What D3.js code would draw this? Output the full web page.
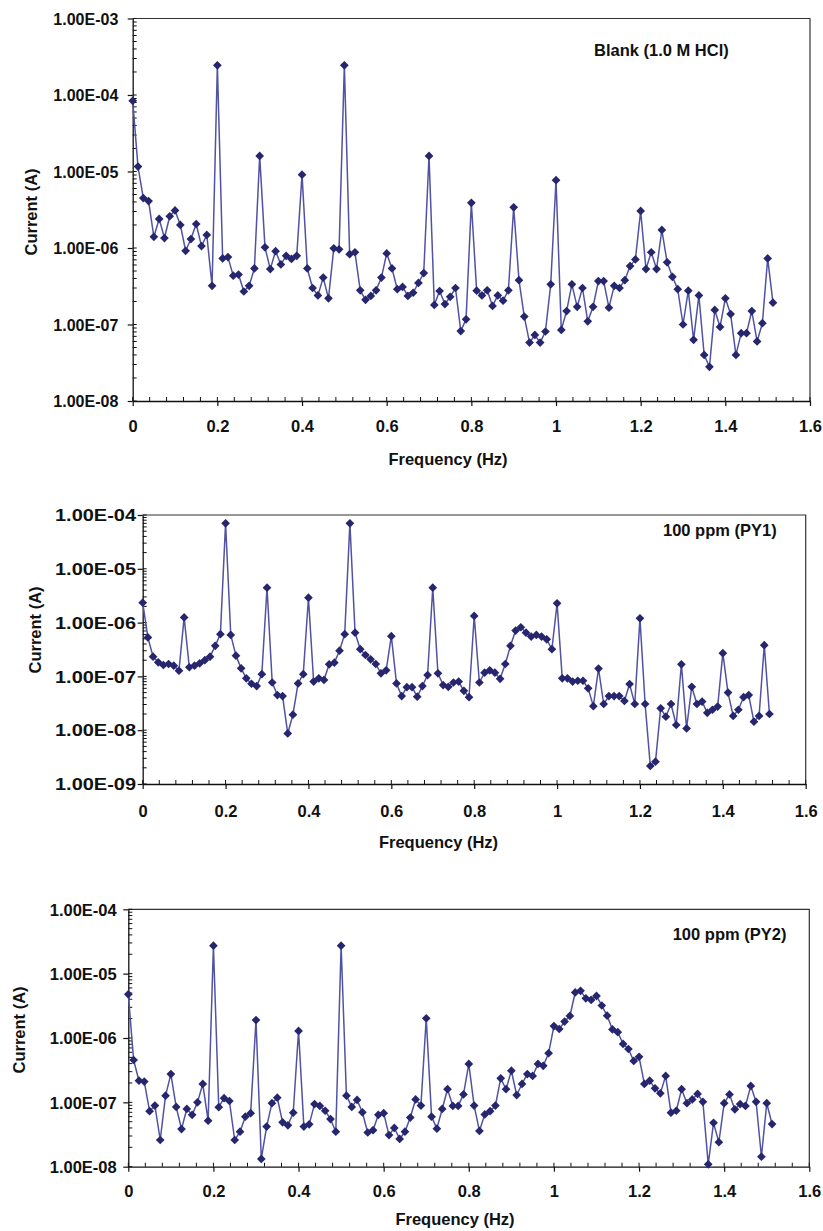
<!DOCTYPE html>
<html>
<head>
<meta charset="utf-8">
<script src="https://cdn.jsdelivr.net/npm/d3@7"></script>
<style>
  html, body { margin: 0; padding: 0; background: #fff; }
  svg { display: block; }
  text { font-family: "Liberation Sans", Arial, sans-serif; font-weight: bold; fill: #111; }
</style>
</head>
<body>
<svg id="chart" width="823" height="1231"></svg>
<script>
// Frequency bins of the spectra (Hz)
const FREQ = [
  0, 0.0125, 0.025, 0.0375, 0.05, 0.0625, 0.075, 0.0875,
  0.1, 0.1125, 0.125, 0.1375, 0.15, 0.1625, 0.175, 0.1875,
  0.2, 0.2125, 0.225, 0.2375, 0.25, 0.2625, 0.275, 0.2875,
  0.3, 0.3125, 0.325, 0.3375, 0.35, 0.3625, 0.375, 0.3875,
  0.4, 0.4125, 0.425, 0.4375, 0.45, 0.4625, 0.475, 0.4875,
  0.5, 0.5125, 0.525, 0.5375, 0.55, 0.5625, 0.575, 0.5875,
  0.6, 0.6125, 0.625, 0.6375, 0.65, 0.6625, 0.675, 0.6875,
  0.7, 0.7125, 0.725, 0.7375, 0.75, 0.7625, 0.775, 0.7875,
  0.8, 0.8125, 0.825, 0.8375, 0.85, 0.8625, 0.875, 0.8875,
  0.9, 0.9125, 0.925, 0.9375, 0.95, 0.9625, 0.975, 0.9875,
  1.0, 1.0125, 1.025, 1.0375, 1.05, 1.0625, 1.075, 1.0875,
  1.1, 1.1125, 1.125, 1.1375, 1.15, 1.1625, 1.175, 1.1875,
  1.2, 1.2125, 1.225, 1.2375, 1.25, 1.2625, 1.275, 1.2875,
  1.3, 1.3125, 1.325, 1.3375, 1.35, 1.3625, 1.375, 1.3875,
  1.4, 1.4125, 1.425, 1.4375, 1.45, 1.4625, 1.475, 1.4875,
  1.5, 1.5125
];

// Current amplitude (A), blank 1.0 M HCl
const BLANK = [
  8.4e-5, 1.16e-5, 4.5e-6, 4.1e-6, 1.4e-6, 2.4e-6, 1.35e-6, 2.6e-6,
  3.1e-6, 2.0e-6, 9.2e-7, 1.31e-6, 2.06e-6, 1.06e-6, 1.48e-6, 3.2e-7,
  2.44e-4, 7.3e-7, 7.6e-7, 4.35e-7, 4.5e-7, 2.7e-7, 3.2e-7, 5.4e-7,
  1.6e-5, 1.02e-6, 5.3e-7, 9.1e-7, 6.1e-7, 7.9e-7, 7.2e-7, 7.9e-7,
  9.1e-6, 5.4e-7, 3.0e-7, 2.4e-7, 4.1e-7, 2.2e-7, 9.9e-7, 9.6e-7,
  2.44e-4, 8.3e-7, 8.8e-7, 2.8e-7, 2.1e-7, 2.36e-7, 2.8e-7, 4.1e-7,
  8.5e-7, 5.4e-7, 2.9e-7, 3.1e-7, 2.36e-7, 2.6e-7, 3.5e-7, 4.7e-7,
  1.6e-5, 1.8e-7, 2.74e-7, 1.85e-7, 2.3e-7, 3.0e-7, 8.2e-8, 1.17e-7,
  3.9e-6, 2.77e-7, 2.4e-7, 2.8e-7, 1.75e-7, 2.4e-7, 2.05e-7, 2.8e-7,
  3.4e-6, 3.8e-7, 1.27e-7, 5.8e-8, 7.3e-8, 5.8e-8, 8.1e-8, 3.35e-7,
  7.7e-6, 8.5e-8, 1.5e-7, 3.35e-7, 1.7e-7, 3.0e-7, 1.1e-7, 1.7e-7,
  3.7e-7, 3.7e-7, 1.66e-7, 3.2e-7, 3.0e-7, 3.8e-7, 5.8e-7, 7.1e-7,
  3.05e-6, 5.3e-7, 8.8e-7, 5.3e-7, 1.72e-6, 6.5e-7, 4.2e-7, 2.9e-7,
  1.0e-7, 2.77e-7, 6.3e-8, 2.4e-7, 4.0e-8, 2.8e-8, 1.55e-7, 9.3e-8,
  2.2e-7, 1.37e-7, 4.0e-8, 7.7e-8, 7.7e-8, 1.5e-7, 6.0e-8, 1.04e-7,
  7.3e-7, 1.93e-7
];

// Current amplitude (A), 100 ppm PY1
const PY1 = [
  2.35e-6, 5.3e-7, 2.33e-7, 1.83e-7, 1.63e-7, 1.7e-7, 1.58e-7, 1.28e-7,
  1.25e-6, 1.48e-7, 1.58e-7, 1.75e-7, 2.0e-7, 2.33e-7, 3.7e-7, 6.1e-7,
  7.0e-5, 5.9e-7, 2.43e-7, 1.41e-7, 9.2e-8, 7.3e-8, 6.6e-8, 1.1e-7,
  4.45e-6, 7.7e-8, 4.5e-8, 4.3e-8, 8.7e-9, 1.94e-8, 7.4e-8, 1.1e-7,
  2.9e-6, 8.0e-8, 9.2e-8, 8.6e-8, 1.68e-7, 1.8e-7, 3.0e-7, 6.1e-7,
  7.0e-5, 6.5e-7, 3.2e-7, 2.5e-7, 2.08e-7, 1.7e-7, 1.14e-7, 1.3e-7,
  5.6e-7, 7.4e-8, 4.3e-8, 6.3e-8, 6.3e-8, 4.2e-8, 6.6e-8, 1.06e-7,
  4.45e-6, 1.14e-7, 6.9e-8, 6.4e-8, 7.7e-8, 8.0e-8, 5.4e-8, 4.1e-8,
  1.33e-6, 7.7e-8, 1.17e-7, 1.3e-7, 1.17e-7, 9.0e-8, 1.7e-7, 3.7e-7,
  7.1e-7, 8.2e-7, 6.5e-7, 5.5e-7, 5.9e-7, 5.5e-7, 4.9e-7, 3.2e-7,
  2.28e-6, 9.2e-8, 9.2e-8, 8.0e-8, 8.3e-8, 8.3e-8, 6.0e-8, 2.8e-8,
  1.4e-7, 3.07e-8, 4.3e-8, 4.3e-8, 4.3e-8, 3.5e-8, 7.2e-8, 3.07e-8,
  1.2e-6, 3.07e-8, 2.16e-9, 2.6e-9, 2.55e-8, 1.78e-8, 3.07e-8, 1.25e-8,
  1.68e-7, 1.08e-8, 6.4e-8, 3.07e-8, 3.4e-8, 2.1e-8, 2.4e-8, 2.75e-8,
  2.7e-7, 5.0e-8, 1.84e-8, 2.4e-8, 4.1e-8, 4.5e-8, 1.44e-8, 1.84e-8,
  3.8e-7, 2.0e-8
];

// Current amplitude (A), 100 ppm PY2
const PY2 = [
  4.78e-6, 4.55e-7, 2.17e-7, 2.1e-7, 7.3e-8, 8.9e-8, 2.6e-8, 1.27e-7,
  2.75e-7, 8.5e-8, 3.85e-8, 7.9e-8, 6.4e-8, 1.0e-7, 1.93e-7, 5.2e-8,
  2.72e-5, 8.4e-8, 1.16e-7, 1.05e-7, 2.6e-8, 3.5e-8, 6.0e-8, 6.8e-8,
  1.9e-6, 1.32e-8, 4.2e-8, 9.7e-8, 1.18e-7, 4.9e-8, 4.4e-8, 6.9e-8,
  1.29e-6, 4.2e-8, 4.55e-8, 9.4e-8, 8.8e-8, 7.4e-8, 5.5e-8, 3.5e-8,
  2.72e-5, 1.27e-7, 8.5e-8, 1.09e-7, 7.0e-8, 3.4e-8, 3.7e-8, 6.4e-8,
  6.8e-8, 3.1e-8, 4.0e-8, 2.7e-8, 3.5e-8, 5.8e-8, 1.11e-7, 8.9e-8,
  2.02e-6, 6.0e-8, 3.9e-8, 7.9e-8, 1.6e-7, 8.8e-8, 8.8e-8, 1.33e-7,
  3.95e-7, 8.9e-8, 3.6e-8, 6.5e-8, 7.3e-8, 8.9e-8, 2.36e-7, 1.6e-7,
  3.1e-7, 1.3e-7, 1.93e-7, 2.75e-7, 2.57e-7, 3.95e-7, 3.7e-7, 5.8e-7,
  1.53e-6, 1.38e-6, 1.8e-6, 2.2e-6, 5.1e-6, 5.4e-6, 4.14e-6, 3.9e-6,
  4.5e-6, 3.2e-6, 2.22e-6, 1.36e-6, 1.23e-6, 8.1e-7, 6.75e-7, 4.4e-7,
  5.1e-7, 1.93e-7, 2.17e-7, 1.65e-7, 1.38e-7, 2.57e-7, 6.9e-8, 7.4e-8,
  1.6e-7, 9.7e-8, 1.11e-7, 1.35e-7, 1.02e-7, 1.09e-8, 4.8e-8, 2.4e-8,
  9.7e-8, 1.33e-7, 7.8e-8, 9.4e-8, 8.8e-8, 1.8e-7, 1.02e-7, 1.43e-8,
  9.7e-8, 4.6e-8
];

const X_TICKS = [0, 0.2, 0.4, 0.6, 0.8, 1, 1.2, 1.4, 1.6];
const X_MINOR_STEP = 0.04;
const PANEL_LABELS = ["Blank (1.0 M HCl)", "100 ppm (PY1)", "100 ppm (PY2)"];
const Y_DOMAINS = [[1e-8, 1e-3], [1e-9, 1e-4], [1e-8, 1e-4]];
const X_TITLE = "Frequency (Hz)";
const Y_TITLE = "Current (A)";

// Page placement of each panel
const LAYOUT = [
  { left: 132.7, right: 810, top: 18.5, bottom: 401, yLabelRight: 118.3, yLabelWidth: 65,
    xLabelBase: 432, xTitle: [448, 464.5], yTitle: [31, 212], label: [594, 55.5] },
  { left: 142.7, right: 805.7, top: 515, bottom: 784, yLabelRight: 136, yLabelWidth: 81,
    xLabelBase: 816.7, xTitle: [438.5, 848], yTitle: [35, 630], label: [663, 536] },
  { left: 128.3, right: 809.3, top: 909.3, bottom: 1166.7, yLabelRight: 116.7, yLabelWidth: 67,
    xLabelBase: 1197, xTitle: [455, 1225], yTitle: [19, 1030], label: [672.7, 940] }
];

const SERIES = [BLANK, PY1, PY2];
const LINE_COLOR = "#5252a3";
const MARKER_COLOR = "#26266e";
const FONT_SIZE = 16.5;

const svg = d3.select("#chart");

const sci = v => {
  const e = Math.round(Math.log10(v));
  return "1.00E" + (e < 0 ? "-" : "+") + String(Math.abs(e)).padStart(2, "0");
};

SERIES.forEach((values, i) => {
  const L = LAYOUT[i];
  const g = svg.append("g");

  const x = d3.scaleLinear().domain([0, 1.6]).range([L.left, L.right]);
  const y = d3.scaleLog().domain(Y_DOMAINS[i]).range([L.bottom, L.top]);

  const [eLo, eHi] = Y_DOMAINS[i].map(v => Math.round(Math.log10(v)));
  const decades = d3.range(eLo, eHi + 1).map(e => Math.pow(10, e));
  const yMinor = [];
  d3.range(eLo, eHi).forEach(e => {
    for (let m = 2; m <= 9; m++) yMinor.push(m * Math.pow(10, e));
  });
  const xMinor = d3.range(0, 1.6 + 1e-9, X_MINOR_STEP);

  // frame on top and right
  g.append("path")
    .attr("d", `M${L.left},${L.top}H${L.right}V${L.bottom}`)
    .attr("fill", "none").attr("stroke", "#333").attr("stroke-width", 1.2);

  // inner ticks
  g.append("g").selectAll("line").data(yMinor.concat(decades)).join("line")
    .attr("x1", L.left).attr("x2", L.left + 4)
    .attr("y1", d => y(d)).attr("y2", d => y(d))
    .attr("stroke", "#111").attr("stroke-width", 1);
  g.append("g").selectAll("line").data(xMinor).join("line")
    .attr("x1", d => x(d)).attr("x2", d => x(d))
    .attr("y1", L.bottom).attr("y2", L.bottom - 4)
    .attr("stroke", "#111").attr("stroke-width", 1);

  // x axis
  const xa = g.append("g").attr("transform", `translate(0,${L.bottom})`)
    .call(d3.axisBottom(x).tickValues(X_TICKS).tickFormat(d3.format("")).tickSize(5).tickSizeOuter(0));
  xa.select(".domain").attr("stroke", "#111").attr("stroke-width", 1.3);
  xa.selectAll(".tick line").attr("stroke", "#111").attr("stroke-width", 1.2);
  xa.selectAll(".tick text")
    .attr("y", L.xLabelBase - L.bottom).attr("dy", null)
    .attr("font-size", FONT_SIZE).attr("font-family", null).attr("fill", "#111");

  // y axis
  const ya = g.append("g").attr("transform", `translate(${L.left},0)`)
    .call(d3.axisLeft(y).tickValues(decades).tickFormat(sci).tickSize(5).tickSizeOuter(0));
  ya.select(".domain").attr("stroke", "#111").attr("stroke-width", 1.3);
  ya.selectAll(".tick line").attr("stroke", "#111").attr("stroke-width", 1.2);
  ya.selectAll(".tick text")
    .attr("x", L.yLabelRight - L.left).attr("dy", "0.35em")
    .attr("font-size", FONT_SIZE).attr("font-family", null).attr("fill", "#111")
    .attr("textLength", L.yLabelWidth).attr("lengthAdjust", "spacingAndGlyphs");
  xa.attr("font-family", null);
  ya.attr("font-family", null);

  // data line and markers
  const pts = FREQ.map((f, k) => [f, values[k]]);
  g.append("path").datum(pts)
    .attr("d", d3.line().x(d => x(d[0])).y(d => y(d[1])))
    .attr("fill", "none").attr("stroke", LINE_COLOR).attr("stroke-width", 1.5)
    .attr("stroke-linejoin", "round");
  const diamond = d3.symbol().type(d3.symbolSquare).size(38);
  g.append("g").selectAll("path").data(pts).join("path")
    .attr("d", diamond)
    .attr("transform", d => `translate(${x(d[0])},${y(d[1])}) rotate(45)`)
    .attr("fill", MARKER_COLOR);

  // titles
  g.append("text").attr("x", L.xTitle[0]).attr("y", L.xTitle[1])
    .attr("text-anchor", "middle").attr("font-size", FONT_SIZE).text(X_TITLE);
  g.append("text")
    .attr("transform", `translate(${L.yTitle[0]},${L.yTitle[1]}) rotate(-90)`)
    .attr("text-anchor", "middle").attr("dy", "0.35em")
    .attr("font-size", FONT_SIZE).text(Y_TITLE);
  g.append("text").attr("x", L.label[0]).attr("y", L.label[1])
    .attr("font-size", FONT_SIZE).text(PANEL_LABELS[i]);
});
</script>
</body>
</html>
